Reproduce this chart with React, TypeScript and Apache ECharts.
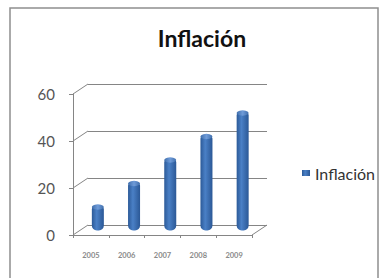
import React, { useEffect, useRef } from "react";
import * as echarts from "echarts";

const categories = ["2005", "2006", "2007", "2008", "2009"];
const values = [10, 20, 30, 40, 50];
const seriesName = "Inflación";
const yMin = 0;
const yMax = 60;
const yInterval = 20;

// frame geometry (back wall, depth offset)
const BACK = { left: 88, top: 84, right: 267, bottom: 225 };
const DEPTH = { dx: -15, dy: 10 };
const MIDF = 0.55;
const W = 381;
const H = 278;

export default function App() {
  const ref = useRef<HTMLDivElement>(null);
  useEffect(() => {
    if (!ref.current) return;
    const chart = echarts.init(ref.current, null, { renderer: "svg" });
    const front = {
      left: BACK.left + DEPTH.dx,
      top: BACK.top + DEPTH.dy,
      right: BACK.right + DEPTH.dx,
      bottom: BACK.bottom + DEPTH.dy,
    };
    const mid = {
      left: BACK.left + DEPTH.dx * MIDF,
      top: BACK.top + DEPTH.dy * MIDF,
      right: BACK.right + DEPTH.dx * MIDF + 2,
      bottom: BACK.bottom + DEPTH.dy * MIDF,
    };
    const gridOf = (g: any) => ({
      left: g.left,
      top: g.top,
      width: g.right - g.left,
      height: g.bottom - g.top,
    });
    const lineCol = "#858585";
    const barGrad = new echarts.graphic.LinearGradient(0, 0, 1, 0, [
      { offset: 0, color: "#2c5a98" },
      { offset: 0.4, color: "#4a80c6" },
      { offset: 1, color: "#2b5896" },
    ]);
    const capGrad = new echarts.graphic.LinearGradient(0, 0, 1, 0, [
      { offset: 0, color: "#3f6eac" },
      { offset: 0.5, color: "#6f9bd8" },
      { offset: 1, color: "#3f6eac" },
    ]);
    const yAxisBase = { type: "value", min: yMin, max: yMax, interval: yInterval };
    const wallLines: any[] = [];
    for (let v = yMin; v <= yMax; v += yInterval) {
      const fy = front.top + ((yMax - v) / (yMax - yMin)) * (front.bottom - front.top);
      wallLines.push({
        type: "line",
        shape: { x1: front.left, y1: fy, x2: BACK.left, y2: fy - DEPTH.dy },
        style: { stroke: lineCol, lineWidth: 1 },
      });
    }
    chart.setOption({
      animation: false,
      backgroundColor: "#ffffff",
      title: {
        text: "Inflación",
        left: 202,
        top: 26,
        padding: 0,
        textAlign: "center",
        textStyle: { fontFamily: "Lato", fontWeight: "bold", fontSize: 23, color: "#111" },
      },
      legend: {
        data: [seriesName],
        left: 302,
        top: 165,
        padding: 0,
        orient: "vertical",
        icon: "rect",
        itemWidth: 8,
        itemHeight: 6,
        itemGap: 4,
        textStyle: { fontFamily: "Lato", fontSize: 16, color: "#333" },
      },
      grid: [gridOf(BACK), gridOf(mid), gridOf(front)],
      xAxis: [
        { type: "category", data: categories, gridIndex: 0, show: false },
        { type: "category", data: categories, gridIndex: 1, show: false },
        {
          type: "category",
          data: categories,
          gridIndex: 2,
          axisLine: { lineStyle: { color: lineCol, width: 1 } },
          axisTick: { show: true, length: 3, lineStyle: { color: lineCol } },
          axisLabel: { fontSize: 7.5, color: "#8a8a8a", margin: 16, fontFamily: "Lato", fontWeight: "bold" },
        },
      ],
      yAxis: [
        {
          ...yAxisBase,
          gridIndex: 0,
          axisLine: { show: false },
          axisTick: { show: false },
          axisLabel: { show: false },
          splitLine: { show: true, lineStyle: { color: lineCol, width: 1 } },
        },
        { ...yAxisBase, gridIndex: 1, show: false },
        {
          ...yAxisBase,
          gridIndex: 2,
          axisLine: { show: true, lineStyle: { color: lineCol, width: 1 } },
          axisTick: { show: true, length: 4, lineStyle: { color: lineCol } },
          axisLabel: { fontSize: 15, color: "#555", margin: 18, fontFamily: "Lato" },
          splitLine: { show: false },
        },
      ],
      series: [
        {
          name: seriesName,
          type: "bar",
          xAxisIndex: 1,
          yAxisIndex: 1,
          data: values,
          barWidth: 12,
          itemStyle: { color: barGrad, borderRadius: [2, 2, 5, 5] },
        },
        {
          name: "cap",
          type: "pictorialBar",
          xAxisIndex: 1,
          yAxisIndex: 1,
          data: values,
          symbol: "circle",
          symbolSize: [12, 5],
          symbolPosition: "end",
          symbolOffset: [0, "-50%"],
          itemStyle: { color: capGrad },
          z: 5,
        },
      ],
      graphic: [
        {
          type: "rect",
          shape: { x: 10, y: 8, width: 368, height: H },
          style: { fill: "none", stroke: "#8f8f8f", lineWidth: 1.5 },
          silent: true,
        },
        ...wallLines,
        {
          type: "line",
          shape: { x1: front.right, y1: front.bottom, x2: BACK.right, y2: BACK.bottom },
          style: { stroke: lineCol, lineWidth: 1 },
        },
      ],
    });
    return () => chart.dispose();
  }, []);
  return (
    <div
      ref={ref}
      style={{ position: "absolute", left: 0, top: 0, width: W, height: H }}
    />
  );
}
